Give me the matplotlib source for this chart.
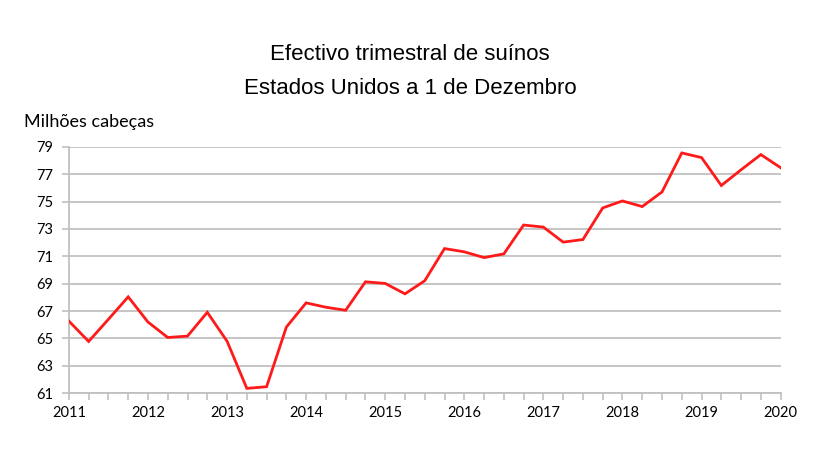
import numpy as np
import matplotlib
matplotlib.use("Agg")
import matplotlib.pyplot as plt
from matplotlib.ticker import MultipleLocator

# quarterly stock, 2011 Q1 .. 2020 Q1
years = [2011, 2012, 2013, 2014, 2015, 2016, 2017, 2018, 2019, 2020]
values = [66.27, 64.78, 66.4, 68.04, 66.2, 65.07, 65.17, 66.91, 64.8,
          61.35, 61.47, 65.83, 67.6, 67.28, 67.06, 69.14, 69.02, 68.26,
          69.22, 71.57, 71.33, 70.91, 71.18, 73.29, 73.14, 72.04, 72.23,
          74.54, 75.05, 74.64, 75.71, 78.56, 78.22, 76.18, 77.33, 78.44,
          77.48]
y_ticks = [61, 63, 65, 67, 69, 71, 73, 75, 77, 79]

x = years[0] + np.arange(len(values)) * 0.25

fig = plt.figure(figsize=(8.2, 4.62), dpi=100)
ax = fig.add_axes([0.084, 0.149, 0.868, 0.533])

ax.plot(x, values, color="#ff1a1a", lw=2, solid_joinstyle="miter", zorder=3)

ax.set_xlim(years[0], years[-1])
ax.set_ylim(y_ticks[0], y_ticks[-1])
ax.set_xticks(years)
ax.xaxis.set_minor_locator(MultipleLocator(0.25))
ax.set_yticks(y_ticks)
ax.yaxis.grid(True, color="#c0c0c0", lw=1.3)
ax.set_axisbelow(True)

for s in ["top", "right"]:
    ax.spines[s].set_visible(False)
ax.spines["left"].set_color("#c0c0c0")
ax.spines["bottom"].set_color("#c0c0c0")
ax.spines["left"].set_linewidth(1.3)
ax.spines["bottom"].set_linewidth(1.3)

ax.tick_params(axis="x", which="both", direction="out", length=5, width=1.2,
               color="#c0c0c0", pad=4)
ax.tick_params(axis="y", direction="out", length=5, width=1.2,
               color="#c0c0c0", pad=6)
for lab in ax.get_xticklabels() + ax.get_yticklabels():
    lab.set_fontfamily("Lato")
    lab.set_fontsize(10.5)
    lab.set_color("#000000")

fig.text(0.5, 0.883, "Efectivo trimestral de suínos", ha="center", va="center",
         fontsize=16, family="Liberation Sans")
fig.text(0.5, 0.808, "Estados Unidos a 1 de Dezembro", ha="center", va="center",
         fontsize=16, family="Liberation Sans")
fig.text(0.029, 0.737, "Milhões cabeças", ha="left", va="center",
         fontsize=13, family="Lato")

fig.savefig("out.png", dpi=100, facecolor="white")
